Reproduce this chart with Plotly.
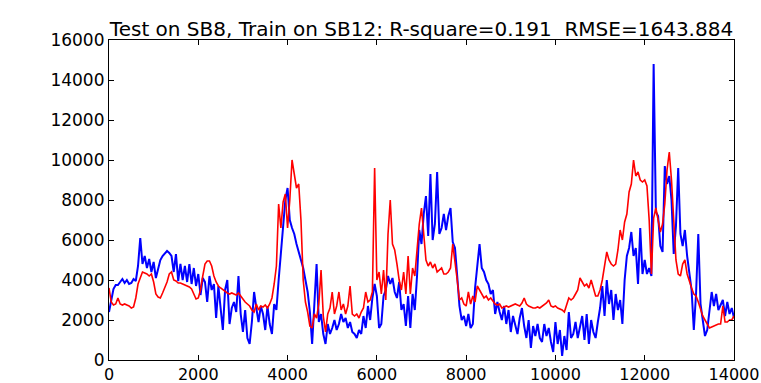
import plotly.graph_objects as go

# Sample positions (every 50 units from 0 to 14000)
SAMPLE_STEP = 50
samples = list(range(0, 14001, SAMPLE_STEP))

# Measured series on SB8 (blue)
actual = [
    2400, 2900, 3550, 3750, 3750, 3900, 4050, 3850, 4000, 3800, 3850, 4050, 3950, 4700, 6100, 4800, 5200, 4600, 5050, 4400,
    4900, 4100, 4600, 5000, 5200, 5300, 5450, 5350, 5200, 4400, 5300, 3950, 4800, 4000, 4700, 3900, 4800, 3800, 4600, 3700,
    4300, 3250, 4100, 3900, 2900, 4200, 3500, 3800, 2100, 3700, 2700, 1500, 3500, 4000, 1800, 2600, 2900, 2400, 4200, 2300,
    1400, 2500, 1100, 800, 1900, 3400, 2600, 1900, 2700, 2300, 1500, 2700, 1800, 1300, 2800, 2500, 4000, 5500, 6500, 8000,
    8600, 7000, 6600, 6300, 5800, 5400, 5000, 4600, 4000, 3400, 2400, 800, 2800, 4800, 1900, 2300, 1300, 800, 1800, 1300,
    1600, 2000, 1500, 1800, 2300, 1900, 2100, 1600, 1900, 1400, 1300, 1100, 1500, 1300, 2200, 1600, 2700, 2000, 3100, 3800,
    3200, 1600, 1800, 3200, 3500, 4200, 3800, 4100, 3400, 3100, 3900, 2500, 2800, 1700, 3200, 1600, 3300, 2500, 4200, 6500,
    5800, 7300, 8200, 6200, 9300, 6000, 6800, 9400, 6300, 6600, 7300, 6500, 7200, 7600, 5900, 5600, 4200, 2700, 2000, 2200,
    1700, 2300, 1600, 1800, 3600, 4900, 5800, 4600, 4400, 4000, 3800, 3300, 3500, 2300, 2900, 2400, 2000, 2700, 1800, 2500,
    1400, 2200, 1700, 1300, 2100, 2600, 1700, 1100, 2000, 600, 1700, 1200, 1800, 1100, 900, 1800, 1200, 1600, 900, 400,
    1900, 800, 1500, 200, 1200, 500, 2400, 1100, 1300, 1900, 1100, 1700, 2200, 1000, 2300, 800, 2000, 1400, 1100, 1900,
    2600, 3700, 2200, 4000, 2800, 3500, 2000, 3300, 2500, 3000, 1800, 4000, 5200, 5600, 6400, 5200, 5600, 3800, 6600, 4300,
    5000, 4300, 4600, 4200, 14800, 7400, 7200, 5700, 5400, 9700, 8800, 9200, 8000, 5300, 6700, 9600, 6300, 5700, 6500, 5200,
    4400, 3500, 1500, 3300, 6300, 2800, 2000, 1200, 1500, 2400, 3400, 2700, 3300, 2500, 2800, 3000, 2200, 2900, 2300, 2600, 2100,
]

# Predicted series from the SB12-trained model (red)
predicted = [
    3600, 2900, 2750, 2800, 3100, 2800, 2750, 2800, 2750, 2700, 2600, 2650, 3100, 3800, 4100, 4400, 4350, 4300, 4200, 4300,
    3900, 3300, 3150, 3100, 3350, 3600, 3900, 4300, 4400, 4000, 3950, 3850, 3850, 3800, 3750, 3700, 3650, 3550, 3300, 3050,
    3100, 3500, 4200, 4800, 4950, 4950, 4700, 4200, 3900, 3700, 3600, 3500, 3400, 3350, 3300, 3350, 3300, 3250, 3350, 3200,
    3000, 2900, 2800, 2700, 2500, 2400, 2800, 2500, 2700, 2650, 2750, 2600, 2800, 3100, 3800, 4700, 7800, 6600, 7900, 8300,
    6600, 8000, 10000, 9300, 8600, 8800, 7000, 4000, 2900, 2400, 1700, 1600, 2300, 2100, 2800, 4500, 2200, 1400, 2300, 2600,
    3400, 2300, 2700, 3400, 2500, 2800, 2300, 2700, 3700, 2300, 2200, 2300, 2100, 2400, 2600, 3400, 2900, 3000, 3400, 9600,
    4000, 4400, 3300, 4500, 3000, 6300, 8000, 5800, 5500, 4800, 4000, 3500, 4400, 3300, 5200, 3300, 4600, 4200, 5700, 6800,
    7600, 6200, 5000, 4700, 4900, 4600, 4800, 4400, 4500, 4600, 4300, 4300, 4400, 4600, 5800, 5000, 4000, 3000, 3100, 2800,
    2700, 3400, 2800, 3200, 2900, 3700, 3500, 3300, 3100, 3200, 3000, 3100, 2950, 2800, 2750, 2800, 2600, 2650, 2700, 2650,
    2700, 2750, 2800, 2750, 2700, 2850, 3100, 2800, 2700, 2650, 2600, 2600, 2650, 2600, 2700, 2800, 2850, 3000, 2700, 2650,
    2700, 2600, 2550, 2500, 2400, 2700, 3100, 3000, 3100, 3300, 3500, 4100, 3900, 3700, 3800, 3600, 4000, 3600, 3200, 3200,
    3500, 4000, 4700, 5400, 5000, 4800, 4700, 4800, 5500, 6500, 6000, 6900, 7300, 8400, 8800, 10000, 9200, 9400, 9000, 8900,
    9000, 8700, 7000, 4300, 7100, 7600, 7000, 6400, 6800, 7800, 9500, 10400, 9000, 6800, 5000, 4300, 4200, 4800, 5000, 4300,
    3900, 3600, 3300, 3200, 2900, 2500, 2200, 2000, 1800, 1600, 1650, 1700, 1750, 1800, 1800, 2700, 1900, 1900, 2000, 2000, 2200,
]

x_ticks = [0, 2000, 4000, 6000, 8000, 10000, 12000, 14000]
y_ticks = [0, 2000, 4000, 6000, 8000, 10000, 12000, 14000, 16000]

r_square = 0.191
rmse = 1643.884
title_text = f"Test on SB8, Train on SB12: R-square={r_square:.3f}  RMSE={rmse:.3f}"

fig = go.Figure()
fig.add_trace(go.Scatter(x=samples, y=actual, mode="lines",
                         line=dict(color="#0000ff", width=2), name="actual"))
fig.add_trace(go.Scatter(x=samples, y=predicted, mode="lines",
                         line=dict(color="#ff0000", width=1.6), name="predicted"))

axis_common = dict(
    showgrid=False, zeroline=False, automargin=False,
    showline=True, linecolor="#000000", linewidth=1.2, mirror="ticks",
    ticks="inside", ticklen=5, tickwidth=1, tickcolor="#000000",
    ticklabeloverflow="allow",
)

fig.update_layout(
    width=761, height=383,
    margin=dict(l=109, r=27, t=40, b=23),
    paper_bgcolor="#ffffff", plot_bgcolor="#ffffff",
    showlegend=False,
    title=dict(text=title_text, x=0.5, xref="paper", xanchor="center",
               y=1, yref="paper", yanchor="bottom", pad=dict(b=4),
               font=dict(family="DejaVu Sans", size=20, color="#000000")),
    xaxis=dict(range=[0, 14000], tickvals=x_ticks,
               ticktext=[str(v) for v in x_ticks],
               tickfont=dict(family="DejaVu Sans", size=16, color="#000000"),
               **axis_common),
    yaxis=dict(range=[0, 16000], tickvals=y_ticks,
               ticktext=[str(v) for v in y_ticks],
               tickfont=dict(family="DejaVu Sans", size=17, color="#000000"),
               **axis_common),
)

fig.write_html("out.html")
